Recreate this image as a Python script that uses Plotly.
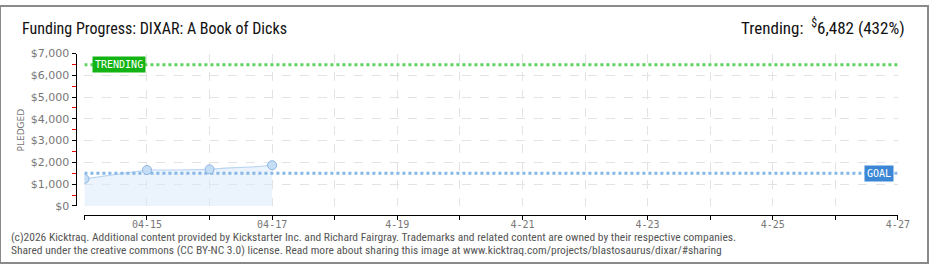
import plotly.graph_objects as go

# ---- data ----
day_dates = ["2026-04-14", "2026-04-15", "2026-04-16", "2026-04-17"]
day_pledged = [1240, 1650, 1680, 1870]

line_dates = ["2026-04-14 00:00", "2026-04-15 00:00", "2026-04-15 12:00",
              "2026-04-16 00:00", "2026-04-16 06:00", "2026-04-16 18:00",
              "2026-04-17 00:00"]
line_pledged = [1240, 1650, 1650, 1680, 1740, 1800, 1870]

goal = 1500
trending = 6482
x_start, x_end = "2026-04-14", "2026-04-27"

tick_dates = ["2026-04-%02d" % d for d in range(14, 28)]
tick_text = ["", "04-15", "", "04-17", "", "4-19", "", "4-21", "", "4-23", "", "4-25", "", "4-27"]
y_ticks = [0, 1000, 2000, 3000, 4000, 5000, 6000, 7000]

W, H = 940, 270
FONT = "Liberation Sans Narrow, Roboto Condensed, DejaVu Sans Condensed, Roboto, sans-serif"
GRAY = "#666666"

fig = go.Figure()

# area + line
fig.add_trace(go.Scatter(
    x=line_dates, y=line_pledged, mode="lines",
    line=dict(color="#b9d5f2", width=1.2),
    fill="tozeroy", fillcolor="rgba(218,234,250,0.55)",
    hoverinfo="skip", showlegend=False))

# goal line
fig.add_trace(go.Scatter(
    x=[x_start, x_end], y=[goal, goal], mode="lines",
    line=dict(color="#86b7e6", width=3, dash="dot"),
    showlegend=False, hoverinfo="skip"))

# trending line
fig.add_trace(go.Scatter(
    x=[x_start, x_end], y=[trending, trending], mode="lines",
    line=dict(color="#5fd35f", width=3, dash="dot"),
    showlegend=False, hoverinfo="skip"))

# daily markers
fig.add_trace(go.Scatter(
    x=day_dates, y=day_pledged, mode="markers",
    marker=dict(size=9, color="#c6ddf6", line=dict(color="#8db6e2", width=1)),
    showlegend=False))

x_dom = [85.5 / W, 909.5 / W]
y_dom = [1 - 210 / H, 1 - 50 / H]
y_step = y_ticks[1] - y_ticks[0]

fig.update_layout(
    width=W, height=H, autosize=False,
    margin=dict(l=0, r=0, t=0, b=0, pad=0),
    paper_bgcolor="white", plot_bgcolor="white",
    font=dict(family=FONT, color=GRAY),
    xaxis=dict(
        domain=x_dom, anchor="free", position=1 - 220 / H,
        type="date", range=[x_start, x_end],
        tickvals=tick_dates, ticktext=tick_text,
        ticks="outside", ticklen=4, tickcolor="black", tickwidth=1,
        ticklabelstandoff=-4,
        showline=True, linecolor="black", linewidth=1,
        showgrid=True, gridcolor="#e3e3e3", griddash="dash", gridwidth=1,
        zeroline=False,
        tickfont=dict(family="DejaVu Sans Mono, monospace", size=10, color="#777777"),
    ),
    yaxis=dict(
        domain=y_dom, anchor="free", position=76.5 / W,
        range=[y_ticks[0], y_ticks[-1]],
        tickmode="linear", tick0=y_ticks[0], dtick=y_step,
        tickprefix="$", tickformat=",d",
        ticks="outside", ticklen=4, tickcolor="black", tickwidth=1,
        minor=dict(dtick=y_step / 2, ticks="outside", ticklen=4, tickcolor="#ee0000",
                   tickwidth=1, showgrid=False),
        showline=True, linecolor="black", linewidth=1,
        showgrid=True, gridcolor="#e3e3e3", griddash="dash", gridwidth=1,
        zeroline=False,
        tickfont=dict(family="DejaVu Sans, sans-serif", size=11, color="#777777"),
    ),
)

ann = []
ann.append(dict(xref="paper", yref="paper", x=20 / W, y=1 - 24 / H, xanchor="left", yanchor="middle",
                text="Funding Progress: DIXAR: A Book of Dicks", showarrow=False,
                font=dict(family=FONT, size=16, color="#111111")))
ann.append(dict(xref="paper", yref="paper", x=919 / W, y=1 - 22 / H, xanchor="right", yanchor="middle",
                text="Trending:  <sup>$</sup>6,482 (432%)", showarrow=False,
                font=dict(family=FONT, size=17, color="#111111")))
ann.append(dict(xref="paper", yref="paper", x=21 / W, y=1 - 130 / H, xanchor="center", yanchor="middle",
                text="PLEDGED", textangle=-90, showarrow=False,
                font=dict(family="DejaVu Sans, sans-serif", size=9, color="#777777")))
ann.append(dict(xref="x", yref="y", x="2026-04-14 03:00", y=trending, xanchor="left", yanchor="middle",
                text="TRENDING", showarrow=False, bgcolor="#13b313", borderpad=2,
                font=dict(family="DejaVu Sans Mono, monospace", size=10, color="white")))
ann.append(dict(xref="x", yref="y", x="2026-04-26 22:30", y=goal, xanchor="right", yanchor="middle",
                text="GOAL", showarrow=False, bgcolor="#3b87d6", borderpad=2,
                font=dict(family="DejaVu Sans Mono, monospace", size=10, color="white")))
ann.append(dict(xref="paper", yref="paper", x=9 / W, y=1 - 243 / H, xanchor="left", yanchor="middle",
                text="(c)2026 Kicktraq. Additional content provided by Kickstarter Inc. and Richard Fairgray. Trademarks and related content are owned by their respective companies.",
                showarrow=False, font=dict(family=FONT, size=11.5, color="#555555")))
ann.append(dict(xref="paper", yref="paper", x=9 / W, y=1 - 256 / H, xanchor="left", yanchor="middle",
                text="Shared under the creative commons (CC BY-NC 3.0) license. Read more about sharing this image at www.kicktraq.com/projects/blastosaurus/dixar/#sharing",
                showarrow=False, font=dict(family=FONT, size=11.5, color="#555555")))
fig.update_layout(annotations=ann)

fig.add_shape(type="rect", xref="paper", yref="paper", x0=0, y0=0, x1=1, y1=1,
              line=dict(color="#8a8a8a", width=2), fillcolor="rgba(0,0,0,0)", layer="above")

fig.write_html("out.html",
               post_script="document.body.style.margin='0';document.body.style.overflow='hidden';")
